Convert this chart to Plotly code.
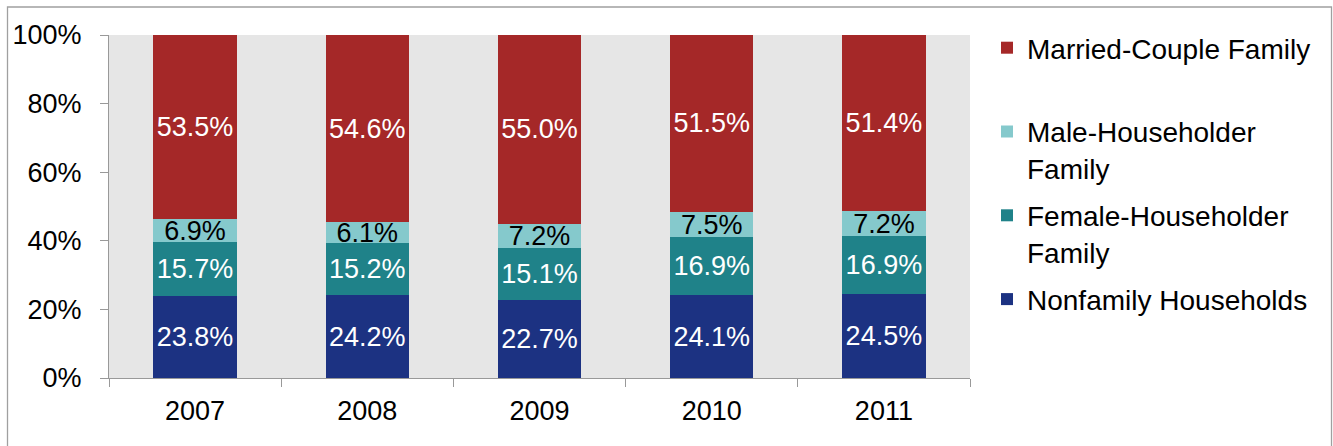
import plotly.graph_objects as go

years = ["2007", "2008", "2009", "2010", "2011"]
nonfamily = [23.8, 24.2, 22.7, 24.1, 24.5]
female_hh = [15.7, 15.2, 15.1, 16.9, 16.9]
male_hh = [6.9, 6.1, 7.2, 7.5, 7.2]
married = [53.5, 54.6, 55.0, 51.5, 51.4]

series_names = ["Nonfamily Households", "Female-Householder<br>Family",
                "Male-Householder<br>Family", "Married-Couple Family<br> "]
series_values = [nonfamily, female_hh, male_hh, married]
series_colors = ["#1C3282", "#1F8289", "#85C9CC", "#A52828"]
label_colors = ["white", "white", "black", "white"]
legend_ranks = [4, 3, 2, 1]
y_ticks = [0, 20, 40, 60, 80, 100]
y_ticktext = [f"{v}%" for v in y_ticks]

FONT = "Arial, Liberation Sans, sans-serif"
W, H = 1333, 446
L, R, T, B = 109, 363, 35, 68

fig = go.Figure()
for name, vals, col, lc, rk in zip(series_names, series_values, series_colors,
                                   label_colors, legend_ranks):
    fig.add_trace(go.Bar(
        x=years, y=vals, name=name, legendgroup=name, legendrank=rk,
        marker=dict(color=col, line=dict(width=0)),
        text=[f"{v:.1f}%" for v in vals],
        texttemplate="%{text}",
        textposition="inside", insidetextanchor="middle", textangle=0,
        textfont=dict(family=FONT, size=27, color=lc),
        hoverinfo="skip",
    ))

pw = W - L - R
ph = H - T - B
def px2x(p):
    return (p - L) / pw
def py2y(p):
    return (H - B - p) / ph

fig.update_layout(
    width=W, height=H,
    margin=dict(l=L, r=R, t=T, b=B),
    barmode="stack", barnorm="percent", bargap=0.516,
    plot_bgcolor="#E6E6E6", paper_bgcolor="white",
    font=dict(family=FONT, size=27, color="black"),
    uniformtext=dict(mode="show", minsize=27),
    showlegend=True,
    legend=dict(
        x=px2x(987), xanchor="left", y=1 + 12 / ph, yanchor="top",
        traceorder="grouped", tracegroupgap=8, valign="top",
        font=dict(family=FONT, size=28, color="black"),
        bgcolor="rgba(0,0,0,0)", maxheight=1.0,
    ),
    xaxis=dict(
        showline=True, linecolor="#999999", linewidth=1.3,
        ticks="outside", tickson="boundaries", ticklen=8, tickcolor="#999999",
        tickwidth=1.3, showgrid=False, ticklabelstandoff=8,
        tickfont=dict(size=27, family=FONT, color="black"),
    ),
    yaxis=dict(
        range=[0, 100], tickmode="array", tickvals=y_ticks, ticktext=y_ticktext,
        showline=True, linecolor="#999999", linewidth=1.3,
        ticks="outside", ticklen=8, tickcolor="#999999", tickwidth=1.3,
        showgrid=False, zeroline=False, ticklabelstandoff=13,
        tickfont=dict(size=27, family=FONT, color="black"),
    ),
    shapes=[dict(
        type="rect", xref="paper", yref="paper",
        x0=px2x(7.5), x1=px2x(1331.5), y0=py2y(470), y1=py2y(7),
        line=dict(color="#A0A0A0", width=1.3), fillcolor="rgba(0,0,0,0)", layer="above",
    )],
)

fig.write_html("out.html", config={"displayModeBar": False},
               post_script="document.body.style.margin='0px';document.body.style.overflow='hidden';")
